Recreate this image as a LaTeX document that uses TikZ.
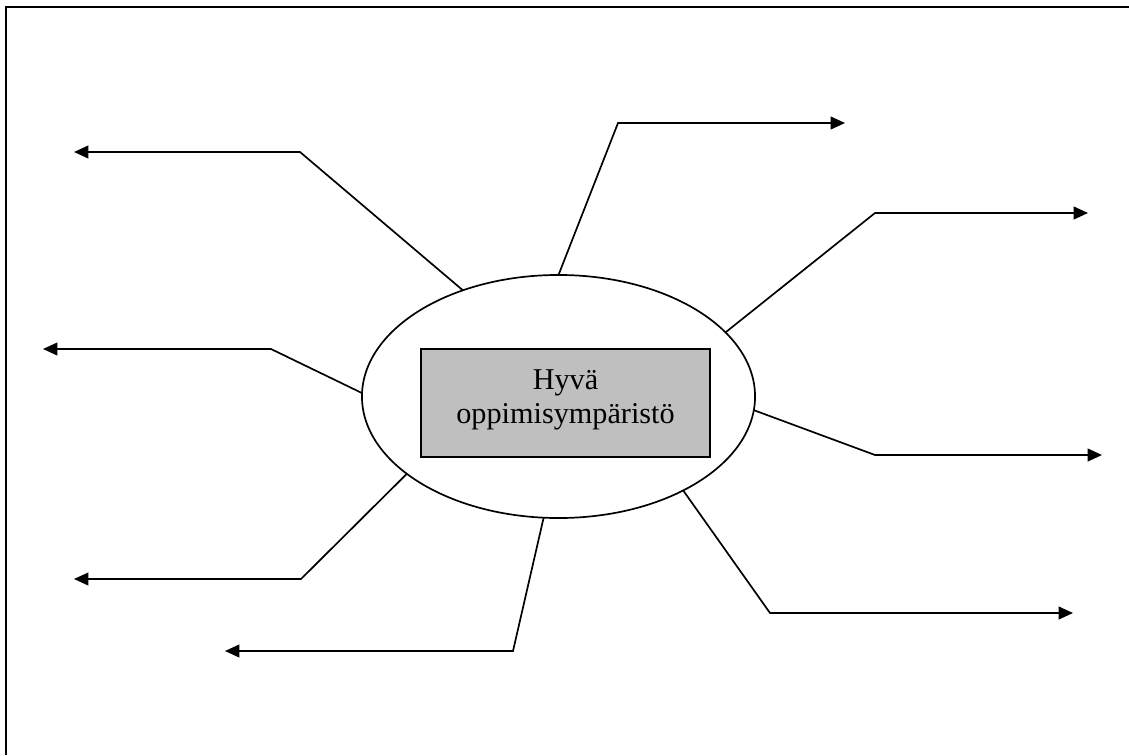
\documentclass[tikz,border=0pt]{standalone}
\usepackage{fontspec}
\setmainfont{Liberation Serif}
\usetikzlibrary{positioning,shapes.geometric,arrows.meta}

\begin{document}
\begin{tikzpicture}[x=0.025cm,y=-0.025cm,
        env/.style={draw,ellipse,line width=1.2pt,inner sep=0pt,outer sep=0pt,
          minimum width=98.25mm,minimum height=60.75mm},
        core/.style={draw,line width=1.2pt,fill=black!25,inner sep=0pt,
          minimum width=72.25mm,minimum height=27mm},
        spoke/.style={draw,line width=1.2pt,-{Triangle[length=3.6mm,width=3.2mm]}}]
      \useasboundingbox (0,0) rectangle (1129,755);
      %% frame, only top and left edge
      \draw[line width=1.3pt] (6,755) -- (6,7) -- (1129,7);
      \node[env] (env) at (558.5,396.5) {};
      \node[core] (core) at (565.5,403) {};
      \node[align=center,font=\fontsize{21.5}{24.5}\selectfont] (title) at (565.5,400)
        {Hyvä\\oppimisympäristö};
      %% free ends of the spokes
      \coordinate (e1) at (74,152);
      \coordinate (e2) at (845,123);
      \coordinate (e3) at (1088,213);
      \coordinate (e4) at (1102,455);
      \coordinate (e5) at (1073,613);
      \coordinate (e6) at (225,651);
      \coordinate (e7) at (74,579);
      \coordinate (e8) at (43,349);
      \path[spoke] (env.132) -- (300,152) -- (e1);
      \path[spoke] (env.90) -- (618,123) -- (e2);
      \path[spoke] (env.21) -- (875,213) -- (e3);
      \path[spoke] (env.-4) -- (875,455) -- (e4);
      \path[spoke] (env.-37.6) -- (770,613) -- (e5);
      \path[spoke] (env.-97.4) -- (513,651) -- (e6);
      \path[spoke] (env.207.4) -- (301,579) -- (e7);
      \path[spoke] (env.179) -- (271,349) -- (e8);
    \end{tikzpicture}
\end{document}
